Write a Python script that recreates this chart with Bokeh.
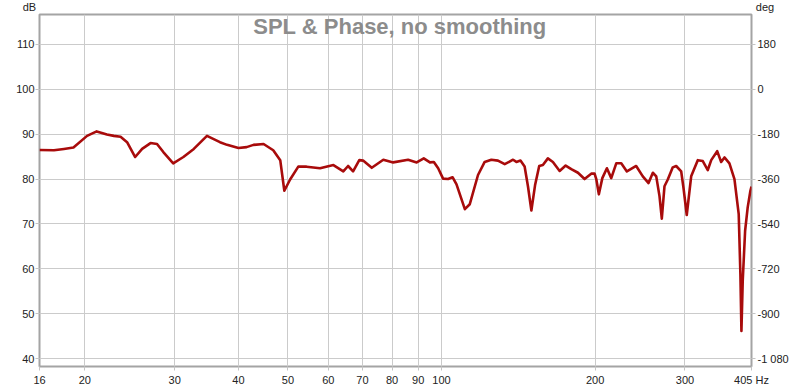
from bokeh.plotting import figure
from bokeh.models import Range1d, LinearAxis, FixedTicker, Label, CustomJSTickFormatter
from bokeh.embed import file_html
from bokeh.resources import INLINE

# ---- data ----
freq_hz = [16.3, 17.4, 18.2, 19.0, 20.2, 21.1, 22.1, 22.8, 23.5, 24.2, 25.1, 25.9, 26.9, 27.7,
           28.5, 29.8, 31.2, 32.7, 34.7, 36.8, 38.0, 40.0, 41.5, 42.8, 44.8, 46.8, 48.3, 49.2,
           50.5, 52.4, 54.4, 57.8, 61.4, 64.2, 65.6, 67.1, 69.0, 70.2, 73.0, 76.9, 80.4, 86.0,
           89.4, 92.3, 94.9, 96.6, 98.5, 100.7, 103.0, 105.1, 107.0, 111.1, 113.6, 117.9, 121.5,
           125.2, 129.0, 133.0, 138.1, 140.2, 142.8, 145.5, 147.7, 150.0, 152.5, 155.4, 158.0,
           161.6, 165.3, 170.4, 175.1, 179.6, 185.1, 190.7, 196.5, 199.5, 201.1, 203.4, 206.6,
           210.9, 215.1, 220.0, 225.0, 230.8, 240.7, 248.0, 254.5, 259.5, 263.5, 267.4, 270.2,
           273.5, 277.6, 283.9, 288.3, 294.9, 298.0, 302.4, 308.5, 317.8, 325.1, 332.5, 337.7,
           346.9, 353.2, 358.5, 366.6, 375.0, 382.3, 385.2, 387.0, 389.3, 393.5, 398.1, 403.0, 405.0]
spl_db = [86.45, 86.4, 86.7, 87.0, 89.6, 90.6, 89.9, 89.6, 89.4, 88.2, 84.9, 86.7, 88.0, 87.8,
          86.0, 83.5, 84.9, 86.7, 89.6, 88.2, 87.6, 86.9, 87.1, 87.6, 87.8, 86.4, 84.2, 77.4,
          79.9, 82.75, 82.75, 82.4, 83.1, 81.7, 82.9, 81.7, 84.2, 84.1, 82.5, 84.3, 83.7, 84.3,
          83.7, 84.6, 83.7, 83.8, 82.4, 80.1, 80.0, 80.4, 78.8, 73.3, 74.4, 80.9, 83.8,
          84.3, 84.1, 83.3, 84.3, 83.8, 84.1, 82.8, 78.4, 73.0, 78.6, 82.9, 83.1,
          84.6, 83.8, 81.8, 83.0, 82.2, 81.4, 80.0, 81.2, 81.2, 79.9, 76.6, 80.2,
          82.4, 80.2, 83.5, 83.5, 81.7, 82.9, 80.6, 79.1, 81.4, 80.6, 76.2, 71.2,
          78.4, 79.9, 82.6, 82.9, 81.7, 78.0, 72.0, 80.6, 84.2, 84.0, 82.0, 84.2,
          86.2, 83.8, 84.8, 83.5, 80.0, 72.2, 58.9, 46.2, 57.4, 68.5, 73.7, 77.4, 78.3]

db_ticks = [40, 50, 60, 70, 80, 90, 100, 110]
deg_ticks = [180, 0, -180, -360, -540, -720, -900, -1080]
deg_labels = ["180", "0", "-180", "-360", "-540", "-720", "-900", "-1 080"]
x_ticks = [16.3, 20, 30, 40, 50, 60, 70, 80, 90, 100, 200, 300, 405]
x_labels = ["16", "20", "30", "40", "50", "60", "70", "80", "90", "100", "200", "300", "405 Hz"]
x_grid = [20, 30, 40, 50, 60, 70, 80, 90, 100, 200, 300]

title_text = "SPL & Phase, no smoothing"
left_unit = "dB"
right_unit = "deg"

DB_LO, DB_HI = 38.3, 116.6
X_LO, X_HI = 16.3, 405

FONT = "Liberation Sans"
LABEL_COLOR = "#222222"

W, H = 800, 388
BL, BR, BT, BB = 39, 49, 14, 22

p = figure(width=W, height=H, x_axis_type="log",
           x_range=Range1d(X_LO, X_HI), y_range=Range1d(DB_LO, DB_HI),
           output_backend="svg", toolbar_location=None,
           min_border_left=BL, min_border_right=BR, min_border_top=BT, min_border_bottom=BB,
           background_fill_color="white", border_fill_color="white")
p.extra_y_ranges = {"deg": Range1d((DB_LO - 100) * 18, (DB_HI - 100) * 18)}

p.outline_line_color = "#a4a4a4"
p.outline_line_width = 2

# grid
p.xgrid.ticker = FixedTicker(ticks=x_grid)
p.ygrid.ticker = FixedTicker(ticks=db_ticks)
for g in (p.xgrid, p.ygrid):
    g.grid_line_color = "#cbcbcb"
    g.grid_line_width = 1
    g.minor_grid_line_color = None

# bottom axis
xa = p.xaxis[0]
xa.ticker = FixedTicker(ticks=x_ticks)
xa.formatter = CustomJSTickFormatter(args=dict(tvals=x_ticks, tlabels=x_labels), code="""
    let best = 0, bd = Infinity;
    for (let i = 0; i < tvals.length; i++) {
        const d = Math.abs(Math.log(tvals[i]) - Math.log(tick));
        if (d < bd) { bd = d; best = i; }
    }
    return tlabels[best];
""")

# left axis
ya = p.yaxis[0]
ya.ticker = FixedTicker(ticks=db_ticks)

# right axis
ra = LinearAxis(y_range_name="deg", ticker=FixedTicker(ticks=deg_ticks),
                major_label_overrides={t: l for t, l in zip(deg_ticks, deg_labels)})
p.add_layout(ra, "right")

for ax in (xa, ya, ra):
    ax.axis_line_color = None
    ax.major_tick_line_color = "#c4c4c4"
    ax.major_tick_out = 4
    ax.major_tick_in = 0
    ax.minor_tick_line_color = None
    ax.major_label_text_font = FONT
    ax.major_label_text_font_size = "11px"
    ax.major_label_text_color = LABEL_COLOR
xa.major_label_standoff = 3
ya.major_label_standoff = 1
ra.major_label_standoff = 2

# curve
p.line(freq_hz, spl_db, line_color="#a80b0b", line_width=2.6, line_join="round")

# title inside plot
p.add_layout(Label(x=82.9, y=113.9, text=title_text, text_align="center",
                   text_baseline="middle", text_font=FONT, text_font_size="22px",
                   text_font_style="bold", text_color="#8c8c8c"))

# unit labels in side panels (screen units, relative to each label's own slot)
frame_w = W - BL - BR
frame_h = H - BT - BB
p.add_layout(Label(x=28.9, y=frame_h + 8, x_units="screen", y_units="screen",
                   text=left_unit, text_align="center", text_baseline="middle",
                   text_font=FONT, text_font_size="11px", text_color=LABEL_COLOR), "left")
p.add_layout(Label(x=frame_w + 13.5, y=8, x_units="screen", y_units="screen",
                   text=right_unit, text_align="center", text_baseline="middle",
                   text_font=FONT, text_font_size="11px", text_color=LABEL_COLOR), "above")

open("out.html", "w").write(file_html(p, INLINE))
